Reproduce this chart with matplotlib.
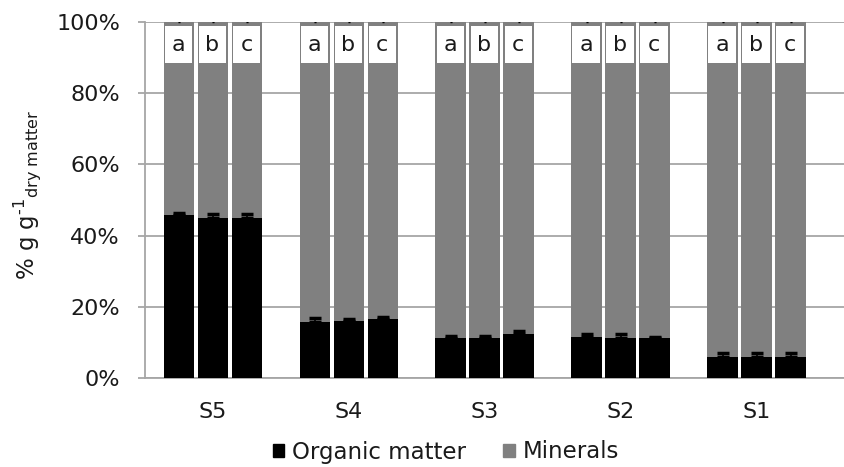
import matplotlib
matplotlib.use("Agg")
import matplotlib.pyplot as plt
from matplotlib.patches import Rectangle
import numpy as np

# Sites and replicate labels
sites = ["S5", "S4", "S3", "S2", "S1"]
replicates = ["a", "b", "c"]

# Organic matter share (%) per site, replicates a, b, c
organic = [
    [45.8, 44.9, 44.9],
    [15.8, 16.1, 16.7],
    [11.1, 11.1, 12.5],
    [11.5, 11.1, 11.1],
    [6.0, 6.0, 6.0],
]
# Standard deviation of organic matter (%)
organic_err = [
    [0.6, 1.3, 1.3],
    [1.1, 0.4, 0.3],
    [0.8, 0.8, 0.7],
    [0.9, 1.2, 0.4],
    [0.9, 0.9, 0.9],
]
# Standard deviation of minerals (%)
minerals_err = [
    [0.3, 0.3, 0.3],
    [0.3, 0.3, 0.3],
    [0.3, 0.3, 0.3],
    [0.3, 0.3, 0.3],
    [0.3, 0.3, 0.3],
]

organic = np.array(organic)
minerals = 100.0 - organic

W, H = 844, 467
fig = plt.figure(figsize=(W / 100, H / 100), dpi=100)
ax = fig.add_axes([145 / W, 1 - 378 / H, (844 - 145) / W, (378 - 22) / H])

pitch = 0.25
bw = 0.225
x = np.arange(len(sites))
grid_c = "#a6a6a6"
txt_c = "#1a1a1a"
fs = 16

for j, rep in enumerate(replicates):
    xs = x + (j - 1) * pitch
    ax.bar(xs, organic[:, j], width=bw, color="black", zorder=3)
    ax.bar(xs, minerals[:, j], width=bw, bottom=organic[:, j], color="#808080", zorder=3)
    ax.errorbar(xs, organic[:, j], yerr=[np.zeros(len(sites)), np.array(organic_err)[:, j]],
                fmt="none", ecolor="black", elinewidth=1.2, capsize=4, capthick=2.5, zorder=4)
    ax.errorbar(xs, np.full(len(sites), 100.0), yerr=[np.zeros(len(sites)), np.array(minerals_err)[:, j]],
                fmt="none", ecolor="black", elinewidth=0.8, capsize=0.8, capthick=1, zorder=4)
    for xi in xs:
        ax.add_patch(Rectangle((xi - bw / 2 + 0.008, 88.5), bw - 0.025, 10.4,
                               facecolor="white", edgecolor="none", zorder=5))
        ax.text(xi - 0.004, 93.6, rep, ha="center", va="center", fontsize=fs,
                color=txt_c, zorder=6)

ax.set_xlim(-0.5, -0.5 + (844 - 145) / 135.9)
ax.set_ylim(0, 100)
ax.set_yticks(np.arange(0, 101, 20))
ax.set_yticklabels([f"{v}%" for v in range(0, 101, 20)])
ax.set_xticks(x)
ax.set_xticklabels(sites)

ax.yaxis.grid(True, color=grid_c, linewidth=1.3, zorder=0)
ax.set_axisbelow(True)
for side in ["top", "right"]:
    ax.spines[side].set_visible(False)
for side in ["left", "bottom"]:
    ax.spines[side].set_color(grid_c)
    ax.spines[side].set_linewidth(1.3)
    ax.spines[side].set_zorder(2)

ax.tick_params(axis="y", length=5, width=1.3, color=grid_c, pad=13, labelsize=fs, labelcolor=txt_c)
ax.tick_params(axis="x", length=0, pad=17, labelsize=fs, labelcolor=txt_c)

fig.text(27 / W, 1 - 195 / H,
         r"% g g$^{\text{-1}}$$_{\text{dry matter}}$",
         rotation=90, ha="center", va="center", fontsize=16.5, color=txt_c)

handles = [Rectangle((0, 0), 1, 1, color="black"), Rectangle((0, 0), 1, 1, color="#808080")]
fig.legend(handles, ["Organic matter", "Minerals"], loc="center",
           bbox_to_anchor=(446 / W, 1 - 452 / H), ncol=2, frameon=False,
           fontsize=16.5, handlelength=0.5, handleheight=0.5, handletextpad=0.35,
           columnspacing=1.6, labelcolor=txt_c)

fig.savefig("out.png", dpi=100, facecolor="white")
